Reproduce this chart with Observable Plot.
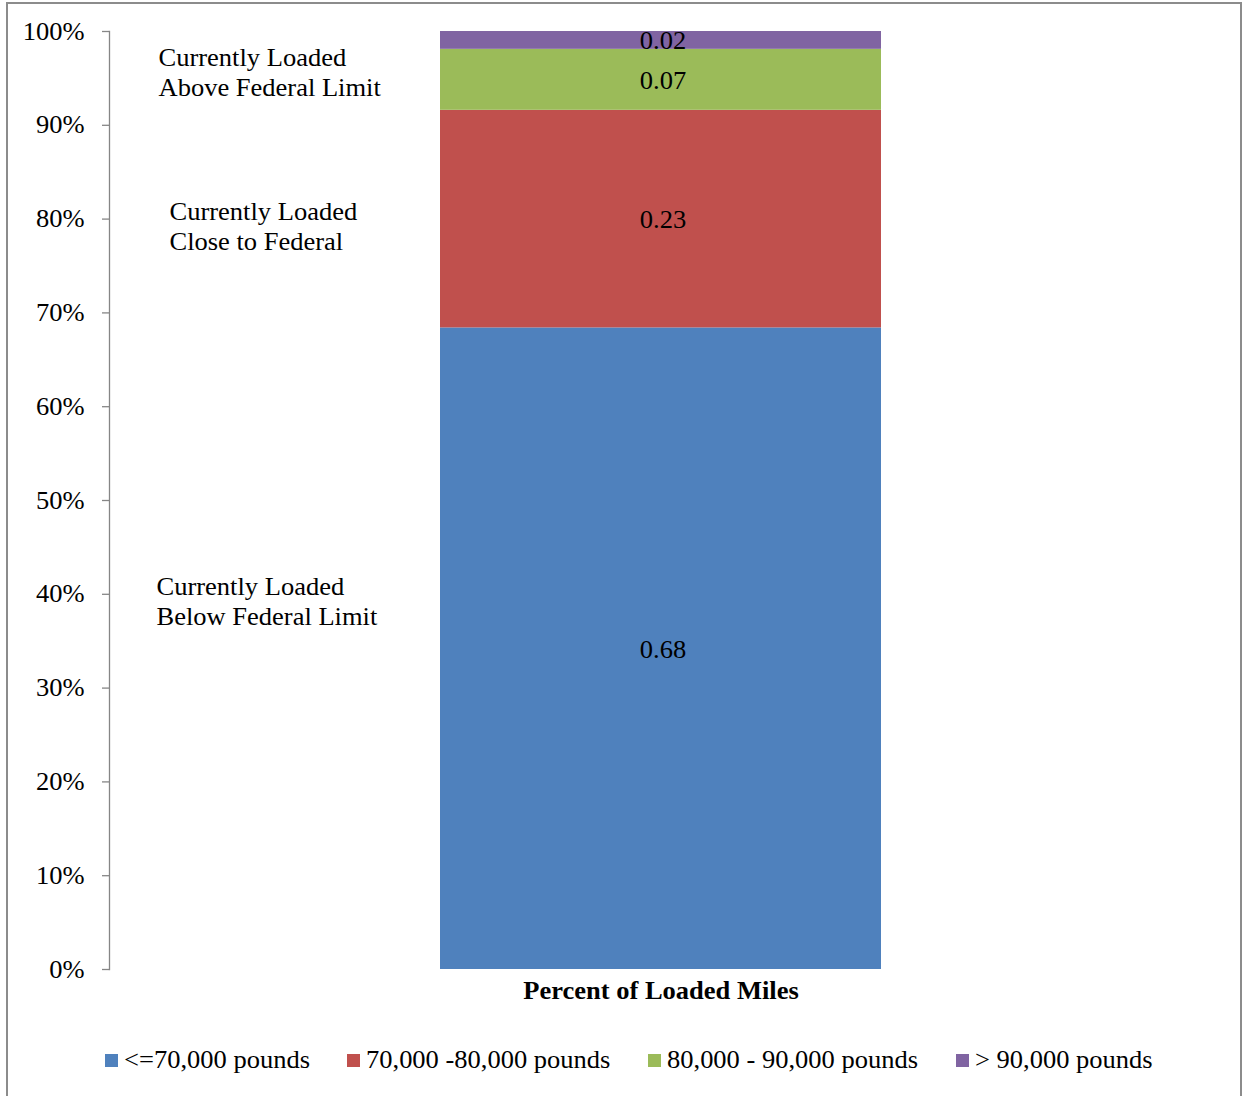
<!DOCTYPE html>
<html>
<head>
<meta charset="utf-8">
<script src="https://cdn.jsdelivr.net/npm/d3@7"></script>
<script src="https://cdn.jsdelivr.net/npm/@observablehq/plot@0.6"></script>
<style>
  html, body { margin: 0; padding: 0; background: #fff; }
  #wrap { position: relative; width: 1244px; height: 1096px; overflow: hidden; font-family: "Liberation Serif", "Times New Roman", serif; }
  #frame { position: absolute; left: 6px; top: 2px; width: 1236px; height: 1110px; border: 2px solid #8c8c8c; box-sizing: border-box; }
  #chart { position: absolute; left: 0; top: 0; }
  #legend { position: absolute; left: 105px; top: 1045px; display: flex; font-size: 25px; color: #000; white-space: nowrap; line-height: 30px; }
  #legend .item { display: flex; align-items: center; }
  #legend .sw { width: 13px; height: 13px; margin-right: 6px; margin-top: 1px; flex: none; }
  #legend .lbl { display: inline-block; transform-origin: left center; }
</style>
</head>
<body>
<div id="wrap">
  <div id="frame"></div>
  <div id="chart"></div>
  <div id="legend"></div>
</div>
<script>
// ---- data ----
const categories = ["Percent of Loaded Miles"];
const seriesNames = ["<=70,000 pounds", "70,000 -80,000 pounds", "80,000 - 90,000 pounds", "> 90,000 pounds"];
const seriesValues = [0.684, 0.232, 0.065, 0.019];
const seriesLabels = ["0.68", "0.23", "0.07", "0.02"];
const seriesColors = ["#4F81BD", "#C0504D", "#9BBB59", "#8064A2"];
const yTicks = [0, 0.1, 0.2, 0.3, 0.4, 0.5, 0.6, 0.7, 0.8, 0.9, 1.0];
const annotationTexts = ["Currently Loaded\nAbove Federal Limit", "Currently Loaded\nClose to Federal", "Currently Loaded\nBelow Federal Limit"];
const annotationY = [0.957, 0.793, 0.393];

const STRETCH = 1.06; // the reference typeface is slightly wider than Liberation Serif
const FS = 25;

const rows = seriesNames.map((s, i) => ({cat: categories[0], series: s, value: seriesValues[i], label: seriesLabels[i]}));
const annots = annotationTexts.map((t, i) => ({text: t, y: annotationY[i], i}));
const annotDx = [49, 60, 47];

const chart = Plot.plot({
  width: 1244,
  height: 1010,
  marginLeft: 109,
  marginRight: 32,
  marginTop: 31,
  marginBottom: 41,
  style: {fontFamily: "'Liberation Serif', 'Times New Roman', serif", fontSize: FS + "px", color: "#000", background: "transparent"},
  x: {domain: categories, padding: 0.4286, label: null},
  y: {domain: [0, 1], label: null},
  color: {domain: seriesNames, range: seriesColors},
  marks: [
    Plot.barY(rows, Plot.stackY({x: "cat", y: "value", fill: "series", order: null})),
    Plot.text(rows, Plot.stackY({x: "cat", y: "value", z: "series", text: "label", order: null, fill: "#000", fontSize: FS, dx: 2, dy: 1})),
    ...annots.map(a => Plot.text([a], {y: "y", text: "text", frameAnchor: "left", textAnchor: "start", dx: annotDx[a.i], lineHeight: 1.2, fontSize: FS, fill: "#000"})),
    Plot.axisY({ticks: yTicks, tickFormat: d => Math.round(d * 100) + "%", tickSize: 7, tickPadding: 18, stroke: "#868686", strokeWidth: 1.3, fill: "#000", fontSize: FS, label: null}),
    Plot.frame({anchor: "left", stroke: "#868686", strokeWidth: 1.3}),
    Plot.axisX({tickSize: 0, tickPadding: 12, fontWeight: "bold", fontSize: FS, fill: "#000", label: null})
  ]
});
document.getElementById("chart").appendChild(chart);

// widen glyphs slightly to match the reference's type width
chart.querySelectorAll("text").forEach(t => {
  const spans = t.querySelectorAll("tspan");
  const leaves = spans.length ? Array.from(spans) : [t];
  leaves.forEach(el => {
    const len = el.getComputedTextLength();
    if (len > 0) {
      el.setAttribute("textLength", (len * STRETCH).toFixed(1));
      el.setAttribute("lengthAdjust", "spacingAndGlyphs");
    }
  });
});

const legend = document.getElementById("legend");
const gap = 37.5;
seriesNames.forEach((s, i) => {
  const item = document.createElement("div");
  item.className = "item";
  const sw = document.createElement("span");
  sw.className = "sw";
  sw.style.background = seriesColors[i];
  const t = document.createElement("span");
  t.className = "lbl";
  t.textContent = s;
  item.appendChild(sw);
  item.appendChild(t);
  legend.appendChild(item);
  const w = t.getBoundingClientRect().width;
  t.style.transform = `scaleX(${STRETCH})`;
  t.style.marginRight = (w * (STRETCH - 1) + (i < seriesNames.length - 1 ? gap : 0)) + "px";
});
</script>
</body>
</html>
